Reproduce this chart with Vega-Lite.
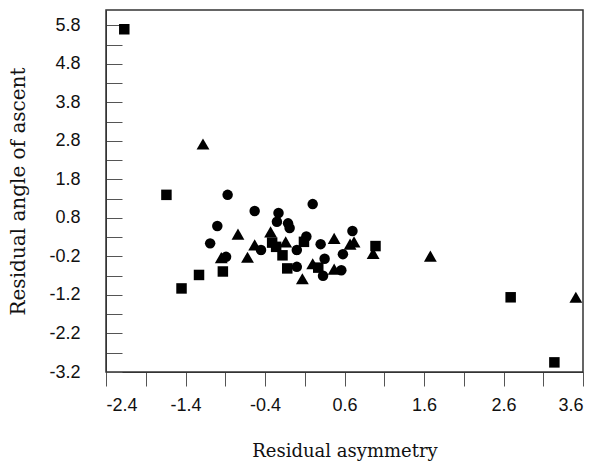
{
  "$schema": "https://vega.github.io/schema/vega-lite/v6.json",
  "width": 477,
  "height": 362,
  "autosize": {"type": "none"},
  "padding": {"left": 106, "top": 10, "right": 12, "bottom": 92},
  "background": "white",
  "config": {
    "view": {"stroke": "#333", "strokeWidth": 1.5},
    "axis": {"grid": false, "domainColor": "#333", "tickColor": "#555", "labelColor": "#111", "titleColor": "#111"}
  },
  "data": {
    "values": [
      {"g": "square", "x": -2.17, "y": 5.70},
      {"g": "square", "x": -1.64, "y": 1.40},
      {"g": "square", "x": -1.45, "y": -1.03},
      {"g": "square", "x": -1.23, "y": -0.68},
      {"g": "square", "x": -0.93, "y": -0.59},
      {"g": "square", "x": -0.31, "y": 0.16},
      {"g": "square", "x": -0.26, "y": 0.05},
      {"g": "square", "x": -0.18, "y": -0.17},
      {"g": "square", "x": -0.12, "y": -0.51},
      {"g": "square", "x": 0.27, "y": -0.49},
      {"g": "square", "x": 0.09, "y": 0.18},
      {"g": "square", "x": 0.99, "y": 0.07},
      {"g": "square", "x": 2.69, "y": -1.26},
      {"g": "square", "x": 3.24, "y": -2.95},
      {"g": "circle", "x": -0.87, "y": 1.40},
      {"g": "circle", "x": 0.20, "y": 1.16},
      {"g": "circle", "x": -0.53, "y": 0.98},
      {"g": "circle", "x": -0.23, "y": 0.93},
      {"g": "circle", "x": -0.25, "y": 0.70},
      {"g": "circle", "x": -0.11, "y": 0.66},
      {"g": "circle", "x": -0.09, "y": 0.54},
      {"g": "circle", "x": -1.00, "y": 0.59},
      {"g": "circle", "x": 0.70, "y": 0.46},
      {"g": "circle", "x": 0.12, "y": 0.32},
      {"g": "circle", "x": 0.30, "y": 0.12},
      {"g": "circle", "x": -1.09, "y": 0.14},
      {"g": "circle", "x": -0.45, "y": -0.03},
      {"g": "circle", "x": 0.00, "y": -0.03},
      {"g": "circle", "x": 0.58, "y": -0.14},
      {"g": "circle", "x": -0.89, "y": -0.21},
      {"g": "circle", "x": 0.35, "y": -0.26},
      {"g": "circle", "x": 0.00, "y": -0.47},
      {"g": "circle", "x": 0.56, "y": -0.56},
      {"g": "circle", "x": 0.33, "y": -0.70},
      {"g": "triangle", "x": -1.18, "y": 2.72},
      {"g": "triangle", "x": -0.74, "y": 0.38},
      {"g": "triangle", "x": -0.33, "y": 0.44},
      {"g": "triangle", "x": 0.47, "y": 0.27},
      {"g": "triangle", "x": 0.67, "y": 0.12},
      {"g": "triangle", "x": 0.72, "y": 0.18},
      {"g": "triangle", "x": -0.14, "y": 0.18},
      {"g": "triangle", "x": -0.53, "y": 0.10},
      {"g": "triangle", "x": 0.96, "y": -0.12},
      {"g": "triangle", "x": -0.62, "y": -0.22},
      {"g": "triangle", "x": -0.95, "y": -0.23},
      {"g": "triangle", "x": 0.20, "y": -0.39},
      {"g": "triangle", "x": 0.47, "y": -0.53},
      {"g": "triangle", "x": 0.07, "y": -0.78},
      {"g": "triangle", "x": 1.68, "y": -0.19},
      {"g": "triangle", "x": 3.51, "y": -1.26}
    ]
  },
  "encoding": {
    "x": {
      "field": "x", "type": "quantitative",
      "scale": {"domain": [-2.4, 3.6], "nice": false, "zero": false},
      "axis": {
        "values": [-2.4, -1.9, -1.4, -0.9, -0.4, 0.1, 0.6, 1.1, 1.6, 2.1, 2.6, 3.1, 3.6],
        "labelExpr": "(abs((datum.value + 2.4) % 1) < 0.01 || abs((datum.value + 2.4) % 1) > 0.99) ? replace(format(datum.value, '.1f'), '\u2212', '-') : ''",
        "tickSize": 14, "labelPadding": 10,
        "labelFont": "Liberation Sans", "labelFontSize": 18,
        "title": "Residual asymmetry", "titleFont": "DejaVu Serif", "titleFontSize": 18, "titleFontWeight": "normal",
        "titlePadding": 28
      }
    },
    "y": {
      "field": "y", "type": "quantitative",
      "scale": {"domain": [-3.2, 6.2], "nice": false, "zero": false},
      "axis": {
        "values": [-3.2, -2.7, -2.2, -1.7, -1.2, -0.7, -0.2, 0.3, 0.8, 1.3, 1.8, 2.3, 2.8, 3.3, 3.8, 4.3, 4.8, 5.3, 5.8],
        "labelExpr": "(abs((datum.value + 3.2) % 1) < 0.01 || abs((datum.value + 3.2) % 1) > 0.99) ? replace(format(datum.value, '.1f'), '\u2212', '-') : ''",
        "tickSize": -16, "labelPadding": 42,
        "labelFont": "Liberation Sans", "labelFontSize": 18,
        "title": "Residual angle of ascent", "titleFont": "DejaVu Serif", "titleFontSize": 20, "titleFontWeight": "normal",
        "titlePadding": 20
      }
    },
    "shape": {
      "field": "g", "type": "nominal",
      "scale": {"domain": ["square", "circle", "triangle"], "range": ["square", "circle", "triangle-up"]},
      "legend": null
    }
  },
  "layer": [
    {
      "transform": [{"filter": "datum.g !== 'triangle'"}],
      "mark": {"type": "point", "filled": true, "opacity": 1, "color": "black", "size": 110}
    },
    {
      "transform": [{"filter": "datum.g === 'triangle'"}],
      "mark": {"type": "point", "filled": true, "opacity": 1, "color": "black", "size": 165}
    }
  ]
}
